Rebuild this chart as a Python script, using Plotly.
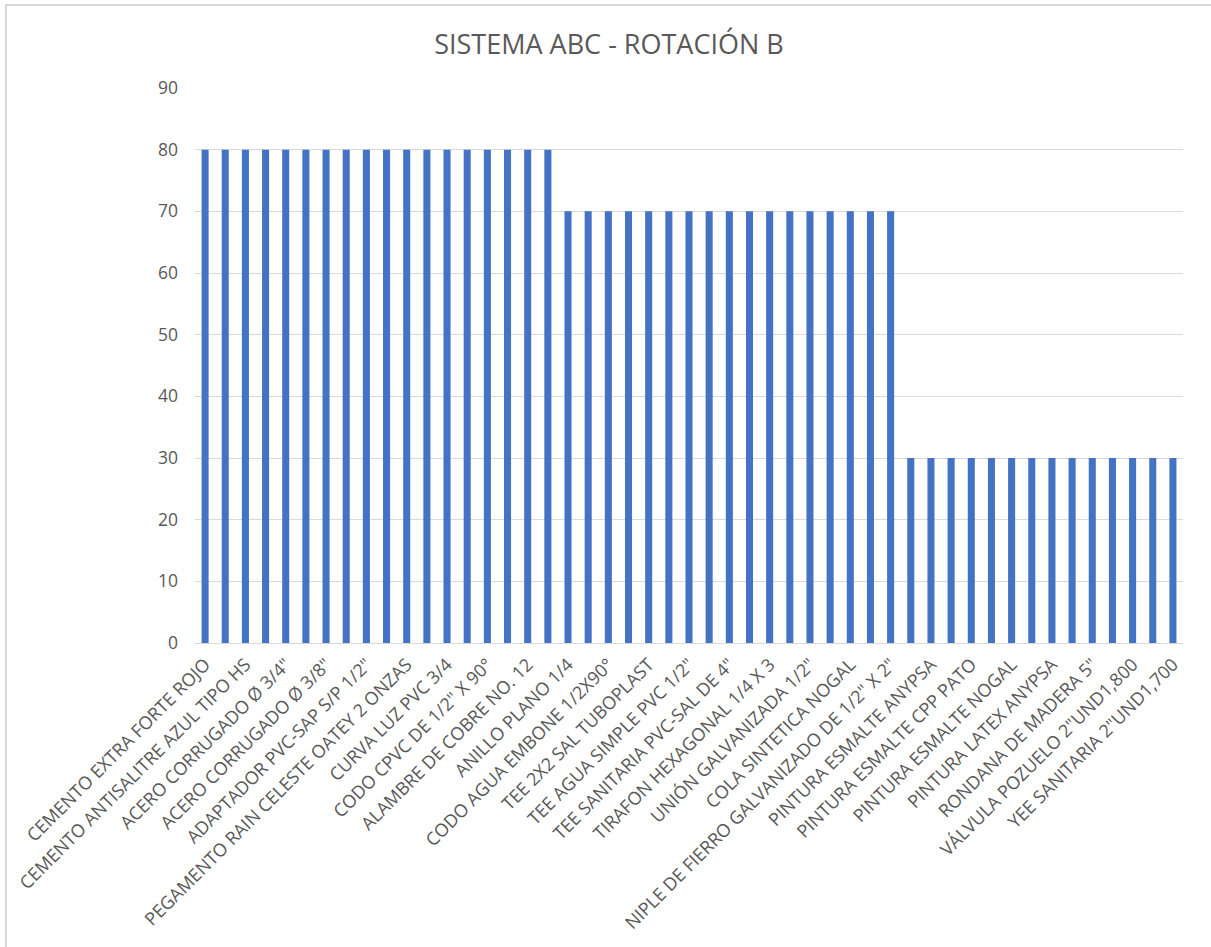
import plotly.graph_objects as go

# Data
n_80 = 18
n_70 = 17
n_30 = 14
values = [80] * n_80 + [70] * n_70 + [30] * n_30
positions = list(range(len(values)))

# Visible category labels (every other bar is labelled in the reference)
tick_labels = [
    "CEMENTO EXTRA FORTE ROJO",
    "CEMENTO ANTISALITRE AZUL TIPO HS",
    "ACERO CORRUGADO Ø 3/4\"",
    "ACERO CORRUGADO Ø 3/8\"",
    "ADAPTADOR PVC-SAP S/P 1/2\"",
    "PEGAMENTO RAIN CELESTE OATEY 2 ONZAS",
    "CURVA LUZ PVC 3/4",
    "CODO CPVC DE 1/2\" X 90°",
    "ALAMBRE DE COBRE NO. 12",
    "ANILLO PLANO 1/4",
    "CODO AGUA EMBONE 1/2X90°",
    "TEE 2X2 SAL TUBOPLAST",
    "TEE AGUA SIMPLE PVC 1/2\"",
    "TEE SANITARIA PVC-SAL DE 4\"",
    "TIRAFON HEXAGONAL 1/4 X 3",
    "UNIÓN GALVANIZADA 1/2\"",
    "COLA SINTETICA NOGAL",
    "NIPLE DE FIERRO GALVANIZADO DE 1/2\" X 2\"",
    "PINTURA ESMALTE ANYPSA",
    "PINTURA ESMALTE CPP PATO",
    "PINTURA ESMALTE NOGAL",
    "PINTURA LATEX ANYPSA",
    "RONDANA DE MADERA 5\"",
    "VÁLVULA POZUELO 2\"UND1,800",
    "YEE SANITARIA 2\"UND1,700",
]
tick_positions = positions[::2]

y_ticks = [0, 10, 20, 30, 40, 50, 60, 70, 80, 90]

grey_text = "#595959"
font_family = "Open Sans, Liberation Sans, sans-serif"

fig = go.Figure(
    go.Bar(
        x=positions,
        y=values,
        marker=dict(color="#4472C4", line=dict(width=0)),
        hoverinfo="y",
    )
)

fig.update_layout(
    width=1211,
    height=947,
    paper_bgcolor="white",
    plot_bgcolor="white",
    margin=dict(l=195, r=28, t=88, b=304),
    bargap=0.65,
    showlegend=False,
    title=dict(
        text="SISTEMA ABC - ROTACIÓN B",
        x=609 / 1211,
        xref="container",
        xanchor="center",
        y=1 - 45 / 947,
        yref="container",
        yanchor="middle",
        font=dict(family=font_family, size=27, color=grey_text),
    ),
    font=dict(family=font_family, color=grey_text),
    shapes=[
        dict(
            type="rect",
            xref="paper",
            yref="paper",
            x0=-(195 - 6) / 988,
            x1=(1260 - 195) / 988,
            y0=-(1000 - 643) / 555,
            y1=1 + (88 - 5) / 555,
            line=dict(color="#D9D9D9", width=2),
            fillcolor="rgba(0,0,0,0)",
            layer="below",
        )
    ],
)

fig.update_xaxes(
    range=[-0.5, len(values) - 0.5],
    tickmode="array",
    tickvals=tick_positions,
    ticktext=tick_labels,
    tickangle=-45,
    tickfont=dict(family=font_family, size=18, color=grey_text),
    showgrid=False,
    showline=True,
    linecolor="#D9D9D9",
    linewidth=1,
    ticks="",
    zeroline=False,
    automargin=False,
    ticklabelstandoff=3,
)

fig.update_yaxes(
    range=[0, 90],
    tickmode="array",
    tickvals=y_ticks,
    ticktext=[str(v) for v in y_ticks],
    tickfont=dict(family=font_family, size=17.5, color=grey_text),
    showgrid=True,
    gridcolor="#D9D9D9",
    gridwidth=1,
    zeroline=False,
    showline=False,
    ticks="",
    ticklabelstandoff=16,
    automargin=False,
)

fig.write_html("out.html")
